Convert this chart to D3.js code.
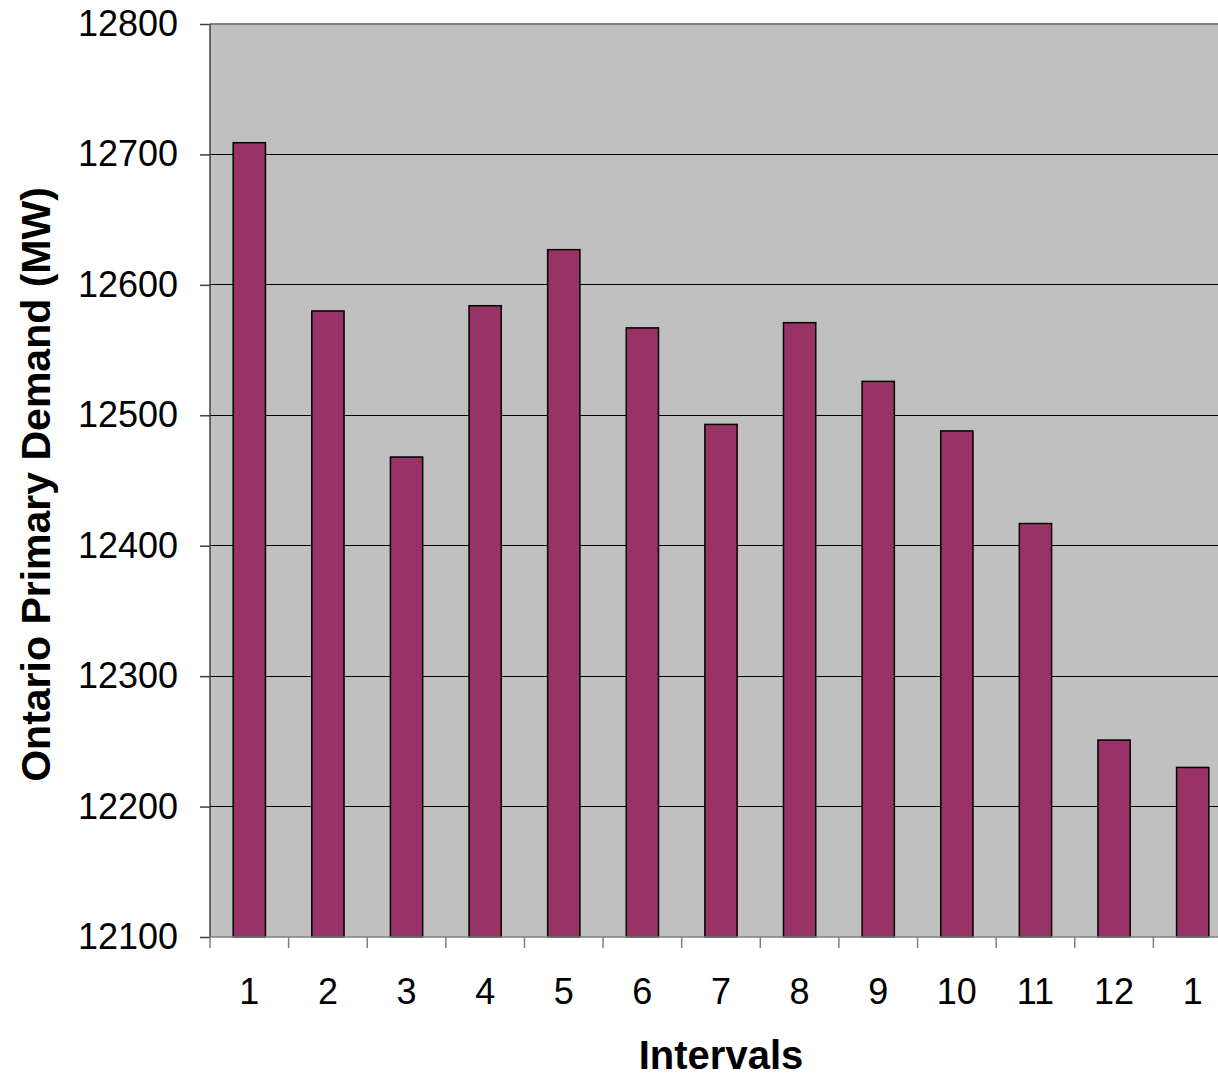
<!DOCTYPE html>
<html><head><meta charset="utf-8">
<script src="https://cdn.jsdelivr.net/npm/d3@7"></script>
<style>html,body{margin:0;padding:0;background:#fff;overflow:hidden}</style>
</head><body>
<script>
const categories = ["1","2","3","4","5","6","7","8","9","10","11","12","1"];
const demand = [12709, 12580, 12468, 12584, 12627, 12567, 12493, 12571, 12526, 12488, 12417, 12251, 12230];
const yTicks = [12100, 12200, 12300, 12400, 12500, 12600, 12700, 12800];

const W = 1218, H = 1079;
const m = {left: 210, top: 24, right: 1232, bottom: 937};
const svg = d3.select("body").append("svg").attr("width", W).attr("height", H);

const x = d3.scaleBand().domain(d3.range(categories.length)).range([m.left, m.right]).paddingInner(0.59).paddingOuter(0.295);
const xb = d3.scaleBand().domain(d3.range(categories.length)).range([m.left, m.right]);
const y = d3.scaleLinear().domain([12100, 12800]).range([m.bottom, m.top]);

svg.append("rect").attr("x", m.left).attr("y", m.top).attr("width", m.right - m.left).attr("height", m.bottom - m.top).attr("fill", "#C0C0C0");

// gridlines
svg.append("g").selectAll("line").data(yTicks.filter(t => t > 12100 && t < 12800)).join("line")
  .attr("x1", m.left).attr("x2", m.right).attr("y1", d => y(d)).attr("y2", d => y(d))
  .attr("stroke", "#000").attr("stroke-width", 1).attr("shape-rendering", "crispEdges");
svg.append("line").attr("x1", m.left).attr("x2", m.right).attr("y1", m.top).attr("y2", m.top)
  .attr("stroke", "#808080").attr("stroke-width", 1.5).attr("shape-rendering", "crispEdges");

// bars
svg.append("g").selectAll("rect").data(demand).join("rect")
  .attr("x", (d, i) => x(i)).attr("width", x.bandwidth())
  .attr("y", d => y(d)).attr("height", d => y(12100) - y(d))
  .attr("fill", "#993366").attr("stroke", "#000").attr("stroke-width", 1.5);

// y axis
const yAxis = d3.axisLeft(y).tickValues(yTicks).tickSize(10).tickPadding(22).tickFormat(d3.format("d"));
const gy = svg.append("g").attr("transform", `translate(${m.left},0)`).call(yAxis);
gy.select(".domain").attr("stroke", "#404040").attr("stroke-width", 1.5).attr("d", `M0,${m.top}V${m.bottom}`);
gy.selectAll(".tick line").attr("stroke", "#404040").attr("stroke-width", 1.5);
gy.selectAll("text").attr("font-family", "Liberation Sans, Arial, sans-serif").attr("font-size", 36).attr("fill", "#000");

// x axis
const gx = svg.append("g").attr("transform", `translate(0,${m.bottom})`);
gx.append("line").attr("x1", m.left).attr("x2", m.right).attr("stroke", "#808080").attr("stroke-width", 1.5);
gx.selectAll("line.tk").data(d3.range(categories.length + 1)).join("line").attr("class", "tk")
  .attr("x1", i => m.left + i * xb.step()).attr("x2", i => m.left + i * xb.step())
  .attr("y1", 0).attr("y2", 11).attr("stroke", "#808080").attr("stroke-width", 1.5);
gx.selectAll("text").data(categories).join("text")
  .attr("x", (d, i) => xb(i) + xb.bandwidth() / 2).attr("y", 67)
  .attr("text-anchor", "middle").attr("font-family", "Liberation Sans, Arial, sans-serif").attr("font-size", 36)
  .text(d => d);

// titles
svg.append("text").attr("x", (m.left + m.right) / 2).attr("y", 1069).attr("text-anchor", "middle")
  .attr("font-family", "Liberation Sans, Arial, sans-serif").attr("font-weight", "bold").attr("font-size", 40)
  .text("Intervals");
svg.append("text").attr("transform", `translate(50,${(m.top + m.bottom) / 2 + 4}) rotate(-90)`).attr("text-anchor", "middle")
  .attr("font-family", "Liberation Sans, Arial, sans-serif").attr("font-weight", "bold").attr("font-size", 41)
  .text("Ontario Primary Demand (MW)");
</script>
</body></html>
